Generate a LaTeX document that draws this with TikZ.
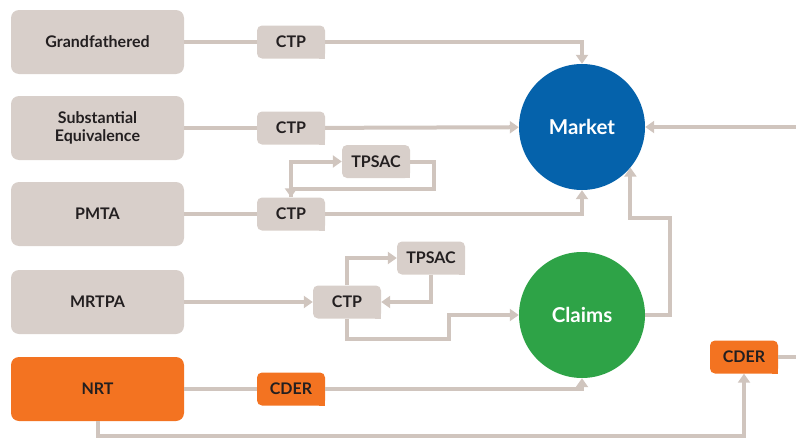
\documentclass[tikz,border=0pt]{standalone}
\usepackage{fontspec}
\setmainfont{Lato}
\usetikzlibrary{arrows.meta, positioning}
\definecolor{boxgray}{HTML}{D8CFCA}
\definecolor{linegray}{HTML}{D0C5BE}
\definecolor{nrtorange}{HTML}{F37321}
\definecolor{marketblue}{HTML}{0562AB}
\definecolor{claimsgreen}{HTML}{2EA347}
\definecolor{textdark}{HTML}{231F20}

\begin{document}
\begin{tikzpicture}[
    x=1pt, y=-1pt,
    >={Triangle[length=9pt, width=12pt]},
    flow/.style={draw=linegray, line width=4pt},
    bigbox/.style={fill=#1, rounded corners=8pt, minimum width=173pt, minimum height=64pt, align=center, text=textdark, font=\fontsize{16}{17.5}\selectfont\bfseries},
    bigbox/.default=boxgray,
    tag/.style={fill=#1, rounded corners=5pt, minimum width=68pt, minimum height=33pt, text=textdark, font=\fontsize{16}{17.5}\selectfont\bfseries,
        append after command={\pgfextra{\fill[#1] (\tikzlastnode.south east) rectangle ++(-6pt,6pt);}}},
    tag/.default=boxgray,
    hub/.style={circle, fill=#1, minimum size=126pt, text=white, font=\fontsize{20.5}{23}\selectfont\bfseries}
]
    \useasboundingbox (0,0) rectangle (796,439);

    % Pathways
    \node[bigbox] (gf) at (97.5, 42) {Grandfathered};
    \node[bigbox] (se) at (97.5, 128) {Substantial\\Equivalence};
    \node[bigbox] (pmta) at (97.5, 214) {PMTA};
    \node[bigbox] (mrtpa) at (97.5, 302) {MRTPA};
    \node[bigbox=nrtorange] (nrt) at (97.5, 389) {NRT};

    % Review centres
    \node[tag] (ctp1) at (291, 42) {CTP};
    \node[tag] (ctp2) at (291, 128) {CTP};
    \node[tag] (ctp3) at (291, 214) {CTP};
    \node[tag] (tpsac1) at (376, 161.5) {TPSAC};
    \node[tag] (ctp4) at (347, 302) {CTP};
    \node[tag] (tpsac2) at (431, 258) {TPSAC};
    \node[tag=nrtorange] (cder1) at (291, 389) {CDER};
    \node[tag=nrtorange] (cder2) at (744, 357) {CDER};

    % Outcomes
    \node[hub=marketblue] (market) at (582, 127) {Market};
    \node[hub=claimsgreen] (claims) at (582, 315) {Claims};

    \coordinate (mktin) at (796, 127);
    \coordinate (cderout) at (796, 357);

    % Connections
    \draw[flow] (gf) -- (ctp1);
    \draw[flow, ->] (ctp1) -| (market.north);
    \draw[flow] (se) -- (ctp2);
    \draw[flow, ->] (ctp2) -- (market);
    \draw[flow] (pmta) -- (ctp3);
    \draw[flow, ->] (ctp3) -| (market.south);
    \draw[flow, ->] (ctp3.north) |- (tpsac1.west);
    \draw[flow, ->] (tpsac1.east) -- ++(24,0) -- ++(0,27) -| (ctp3.north);
    \draw[flow, ->] (mktin) -- (market);

    \draw[flow, ->] (mrtpa) -- (ctp4);
    \draw[flow, ->] (ctp4.north) |- (tpsac2.west);
    \draw[flow, ->] (tpsac2.south) |- (ctp4.east);
    \draw[flow, ->] (ctp4.south) -- ++(0,20) -- ++(102,0) |- (claims.west);
    \draw[flow, ->] (claims.east) -- ++(25,0) -- ++(0,-97) -| (market.-40);

    \draw[flow] (nrt) -- (cder1);
    \draw[flow, ->] (cder1) -| (claims.south);
    \draw[flow, ->] (nrt.south) -- ++(0,15) -| (cder2.south);
    \draw[flow] (cder2) -- (cderout);

\end{tikzpicture}
\end{document}
